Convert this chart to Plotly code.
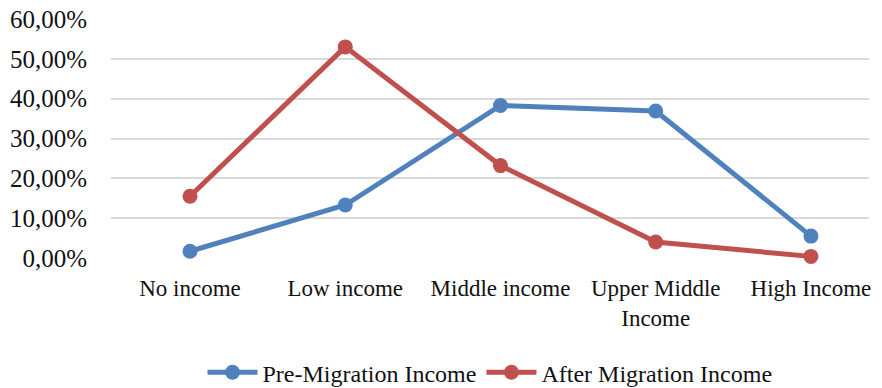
import plotly.graph_objects as go

categories = ["No income", "Low income", "Middle income", "Upper Middle<br>Income", "High Income"]
pre_migration = [0.017, 0.133, 0.383, 0.369, 0.055]
after_migration = [0.155, 0.530, 0.232, 0.040, 0.004]
y_ticks = [0, 0.1, 0.2, 0.3, 0.4, 0.5, 0.6]

BLUE = "#4F81BD"
RED = "#C0504D"
FAMILY = "Liberation Serif, Times New Roman, serif"
FONT = dict(family=FAMILY, size=23, color="#111111")
LFONT = dict(family=FAMILY, size=24, color="#111111")
YFONT = dict(family=FAMILY, size=25, color="#111111")

fig = go.Figure()
fig.add_trace(go.Scatter(x=categories, y=pre_migration, mode="lines+markers",
                         name="Pre-Migration Income", cliponaxis=False,
                         line=dict(color=BLUE, width=5), marker=dict(color=BLUE, size=15)))
fig.add_trace(go.Scatter(x=categories, y=after_migration, mode="lines+markers",
                         name="After Migration Income", cliponaxis=False,
                         line=dict(color=RED, width=5), marker=dict(color=RED, size=15)))

fig.update_layout(
    width=874, height=380,
    margin=dict(l=103, r=13, t=11, b=130, autoexpand=False),
    paper_bgcolor="white", plot_bgcolor="white",
    font=FONT,
    separators=",.",
    legend=dict(orientation="h", x=0.5, xanchor="center", y=-0.48, yanchor="middle",
                font=LFONT, itemwidth=50),
    xaxis=dict(range=[-0.509, 4.374], showgrid=False, showline=False, zeroline=False, ticks="",
               ticklabelstandoff=14, tickfont=FONT, automargin=False,
               ticklabeloverflow="allow"),
    yaxis=dict(range=[0, 0.6], tickvals=y_ticks, tickformat=".2%",
               showgrid=True, gridcolor="#D9D9D9", gridwidth=1.5,
               zeroline=False, showline=False, ticks="",
               ticklabelstandoff=23, tickfont=YFONT, automargin=False,
               ticklabeloverflow="allow"),
)

fig.write_html("out.html")
